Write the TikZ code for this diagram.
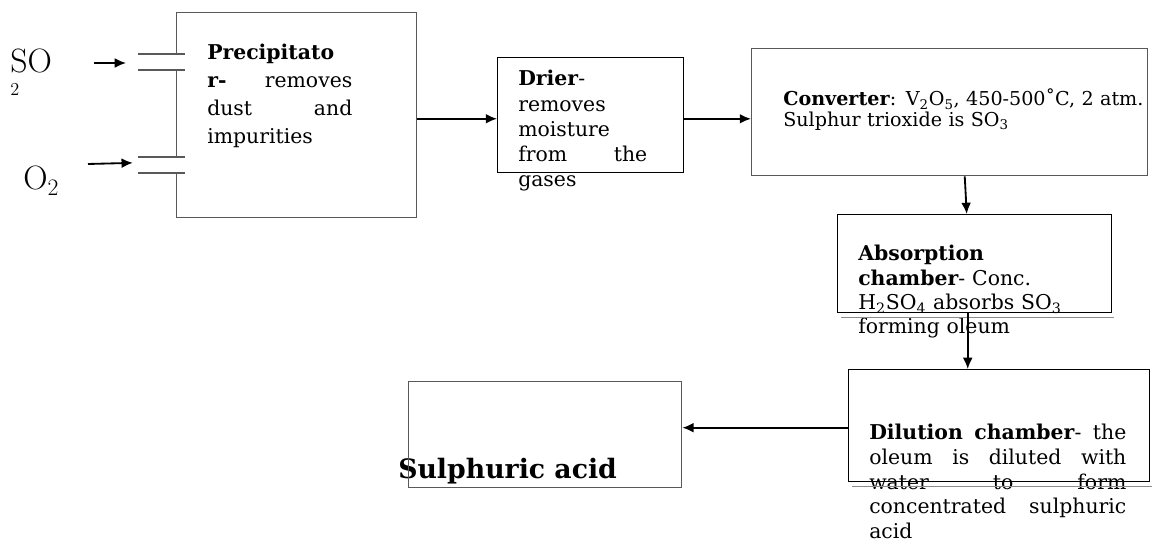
\documentclass[tikz,border=0pt]{standalone}
\usepackage{fontspec}
\newfontfamily\boxfont{DejaVu Serif}
\usetikzlibrary{arrows.meta, positioning}
\tikzstyle{unitbox} = [rectangle, anchor=north west, inner sep=0pt, draw=black!65, line width=0.9pt]
\tikzstyle{chamber} = [rectangle, anchor=north west, inner sep=0pt, draw=black, line width=1pt]
\tikzstyle{desc} = [anchor=base west, inner sep=0pt, align=left, font=\boxfont\fontsize{14.5}{17.8}\selectfont]
\tikzstyle{gas} = [anchor=base west, inner sep=0pt, font=\fontsize{24}{28}\selectfont]
\tikzstyle{pipe} = [draw=black!65, line width=0.9pt]
\tikzstyle{shade} = [draw=black!45, line width=0.9pt]
\tikzstyle{arrow} = [line width=1.3pt, -{Latex[length=8pt,width=7pt]}]

\begin{document}
\begin{tikzpicture}[x=0.025cm, y=-0.025cm]
\useasboundingbox (0,0) rectangle (1160,543);

% texts
\node (prectext) [desc, text width=3.625cm, font=\boxfont\fontsize{14.5}{19.9}\selectfont] at (207,60)
  {\textbf{Precipitato}\\ \textbf{r-}\hfill removes\\ dust\hfill and\\ impurities};
\node (driertext) [desc, text width=3.225cm] at (518,86)
  {\textbf{Drier}-\\ removes\\ moisture\\ from\hfill the\\ gases};
\node (convtext) [desc, text width=10cm, font=\boxfont\fontsize{13.6}{14.4}\selectfont] at (783,106)
  {\textbf{Converter}: V\textsubscript{2}O\textsubscript{5}, 450-500˚C, 2 atm.\\ Sulphur trioxide is SO\textsubscript{3}};
\node (abstext) [desc, text width=6cm, font=\boxfont\fontsize{14.5}{17.3}\selectfont] at (858,261)
  {\textbf{Absorption}\\ \textbf{chamber}- Conc.\\ H\textsubscript{2}SO\textsubscript{4} absorbs SO\textsubscript{3}\\ forming oleum};
\node (diltext) [desc, text width=6.425cm, font=\boxfont\fontsize{14.5}{17.5}\selectfont] at (869,440)
  {\textbf{Dilution}\hfill\textbf{chamber}-\hfill the\\ oleum\hfill is\hfill diluted\hfill with\\ water\hfill to\hfill form\\ concentrated\hfill sulphuric\\ acid};
\node (acidtext) [anchor=base west, inner sep=0pt, font=\boxfont\bfseries\fontsize{19}{22}\selectfont] at (398,479) {Sulphuric acid};

% gases
\node (so2) [gas] at (10,73) {SO};
\node (so2sub) [gas, font=\fontsize{13}{15}\selectfont] at (10,96) {2};
\node (o2) [gas] at (23,190) {O\textsubscript{2}};

% boxes
\node (prec) [unitbox, minimum width=6cm, minimum height=5.125cm] at (176,12) {};
\node (drier) [chamber, minimum width=4.65cm, minimum height=2.875cm] at (497,57) {};
\node (conv) [unitbox, minimum width=9.9cm, minimum height=3.175cm] at (751,48) {};
\node (absorb) [chamber, minimum width=6.85cm, minimum height=2.45cm] at (837,214) {};
\node (dil) [chamber, minimum width=7.525cm, minimum height=2.8cm] at (848,369) {};
\node (acid) [unitbox, minimum width=6.825cm, minimum height=2.65cm] at (408,381) {};

% shadows
\draw [shade] ([xshift=0.1cm,yshift=-0.11cm]absorb.south west) -- ([xshift=0.03cm,yshift=-0.11cm]absorb.south east);
\draw [shade] ([xshift=0.1cm,yshift=-0.11cm]dil.south west) -- ([xshift=0.03cm,yshift=-0.11cm]dil.south east);

% inlet pipes
\coordinate (so2pipe) at (176,62);
\coordinate (o2pipe) at (176,165);
\foreach \p in {so2pipe, o2pipe} {
  \fill [white] ([xshift=-0.05cm,yshift=0.2cm]\p) rectangle ([xshift=0.05cm,yshift=-0.2cm]\p);
  \draw [pipe] ([xshift=-0.95cm,yshift=0.2cm]\p) -- ([xshift=0.225cm,yshift=0.2cm]\p);
  \draw [pipe] ([xshift=-0.95cm,yshift=-0.2cm]\p) -- ([xshift=0.225cm,yshift=-0.2cm]\p);
}

% arrows
\coordinate (so2tail) at (94,63);
\coordinate (o2tail) at (88,164);
\draw [arrow, shorten >=1.25cm] (so2tail) -- (so2pipe |- so2tail);
\draw [arrow, shorten >=1.08cm] (o2tail) -- ([yshift=0.08cm]o2pipe);
\draw [arrow] ([yshift=-0.09cm]prec.east) -- ([yshift=-0.09cm]prec.east -| drier.west);
\draw [arrow] ([yshift=-0.09cm]drier.east) -- ([yshift=-0.09cm]drier.east -| conv.west);
\draw [arrow] ([xshift=-0.25cm]conv.south -| absorb.north) -- ([xshift=-0.2cm]absorb.north);
\draw [arrow] ([xshift=-0.175cm]absorb.south) -- ([xshift=-0.175cm]absorb.south |- dil.north);
\draw [arrow] ([yshift=-0.05cm]dil.west) -- ([yshift=-0.05cm]dil.west -| acid.east);

\end{tikzpicture}
\end{document}
